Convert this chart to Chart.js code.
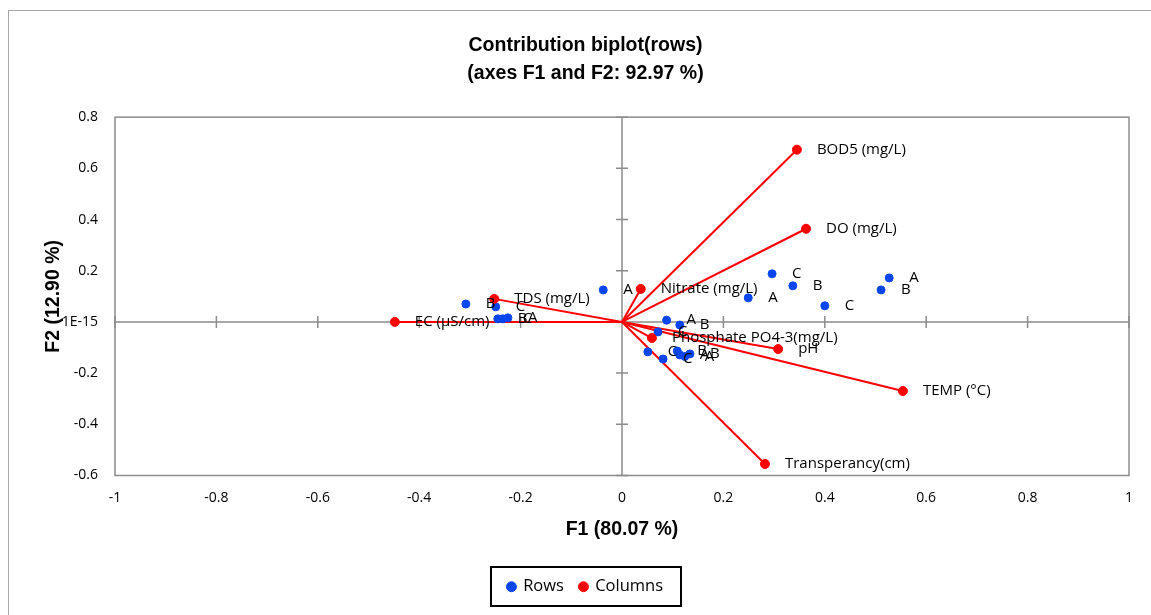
<!DOCTYPE html>
<html>
<head>
<meta charset="utf-8">
<script src="https://cdn.jsdelivr.net/npm/chart.js@4.4.0/dist/chart.umd.min.js"></script>
<style>
html, body { margin: 0; padding: 0; overflow: hidden; background: #fff; }
#frame { position: absolute; left: 8px; top: 10px; width: 1160px; height: 620px; border: 1px solid #a6a6a6; }
#wrap { position: absolute; left: 0; top: 0; width: 1151px; height: 615px; }
</style>
</head>
<body>
<div id="frame"></div>
<div id="wrap"><canvas id="biplot"></canvas></div>
<script>
// variables (columns) - F1 / F2 loadings
const colNames = ['BOD5 (mg/L)', 'DO (mg/L)', 'Nitrate (mg/L)', 'TDS (mg/L)', 'EC (µS/cm)',
    'Phosphate PO4-3(mg/L)', 'pH', 'TEMP (°C)', 'Transperancy(cm)'];
const colF1 = [0.345, 0.363, 0.037, -0.252, -0.448, 0.059, 0.308, 0.554, 0.282];
const colF2 = [0.673, 0.364, 0.129, 0.090, 0.000, -0.063, -0.106, -0.270, -0.555];

// observations (rows)
const rowNames = ['A', 'B', 'C', 'B', 'C', 'A', 'A', 'C', 'B', 'C', 'A', 'B',
    'A', 'B', 'C', 'C', 'C', 'B', 'A', 'B', 'A'];
const rowF1 = [-0.037, -0.308, -0.249, -0.245, -0.235, -0.225, 0.249, 0.296, 0.337, 0.400, 0.527, 0.511,
    0.088, 0.114, 0.071, 0.051, 0.081, 0.109, 0.114, 0.134, 0.124];
const rowF2 = [0.125, 0.070, 0.059, 0.012, 0.012, 0.016, 0.094, 0.188, 0.141, 0.063, 0.172, 0.125,
    0.007, -0.012, -0.039, -0.117, -0.145, -0.114, -0.129, -0.125, -0.135];

const xTickMin = -1, xTickMax = 1, yTickMin = -0.6, yTickMax = 0.8, tickStep = 0.2;

const RED = '#ff0000';
const BLUE = '#0a46f0';
const GRAY = '#8c8c8c';
const FONT = '"Open Sans", "Liberation Sans", sans-serif';
const BOLD_FONT = '"Liberation Sans", Arial, sans-serif';

const datasets = [
    {
        label: 'Rows',
        data: rowF1.map((x, i) => ({ x: x, y: rowF2[i] })),
        backgroundColor: BLUE, borderColor: BLUE,
        pointRadius: 4, pointHoverRadius: 4, order: 1
    },
    {
        label: 'Columns',
        data: colF1.map((x, i) => ({ x: x, y: colF2[i] })),
        backgroundColor: RED, borderColor: RED,
        pointRadius: 4.5, pointHoverRadius: 4.5, order: 0
    }
];
// one vector from the origin per variable
colF1.forEach((x, i) => {
    datasets.push({
        label: '',
        data: [{ x: 0, y: 0 }, { x: x, y: colF2[i] }],
        showLine: true, borderColor: RED, borderWidth: 2,
        pointRadius: 0, order: 2
    });
});

// plot frame, zero axes and their tick marks
const axesPlugin = {
    id: 'biplotAxes',
    beforeDatasetsDraw(chart) {
        const { ctx, chartArea: a, scales: { x, y } } = chart;
        const x0 = x.getPixelForValue(0), y0 = y.getPixelForValue(0);
        ctx.save();
        ctx.strokeStyle = GRAY;
        ctx.lineWidth = 1.5;
        ctx.strokeRect(a.left, a.top, a.right - a.left, a.bottom - a.top);
        ctx.beginPath();
        ctx.moveTo(a.left, y0); ctx.lineTo(a.right, y0);
        ctx.moveTo(x0, a.top); ctx.lineTo(x0, a.bottom);
        x.ticks.forEach(t => {
            const px = x.getPixelForValue(t.value);
            ctx.moveTo(px, y0 - 6); ctx.lineTo(px, y0 + 6);
        });
        y.ticks.forEach(t => {
            const py = y.getPixelForValue(t.value);
            ctx.moveTo(x0 - 6, py); ctx.lineTo(x0 + 6, py);
        });
        ctx.stroke();
        ctx.restore();
    }
};

// point labels, placed right of each marker
const labelPlugin = {
    id: 'pointLabels',
    afterDatasetsDraw(chart) {
        const ctx = chart.ctx;
        ctx.save();
        ctx.font = '15px ' + FONT;
        ctx.fillStyle = '#000';
        ctx.textBaseline = 'middle';
        ctx.textAlign = 'left';
        chart.getDatasetMeta(0).data.forEach((p, i) => ctx.fillText(rowNames[i], p.x + 20, p.y));
        chart.getDatasetMeta(1).data.forEach((p, i) => ctx.fillText(colNames[i], p.x + 20, p.y));
        ctx.restore();
    }
};

// black frame around the legend
const legendBox = {
    id: 'legendBox',
    afterDraw(chart) {
        const boxes = chart.legend.legendHitBoxes;
        if (!boxes || !boxes.length) return;
        const l = Math.min(...boxes.map(b => b.left));
        const r = Math.max(...boxes.map(b => b.left + b.width));
        const t = Math.min(...boxes.map(b => b.top));
        const b = Math.max(...boxes.map(b => b.top + b.height));
        const cx = (l + r) / 2, cy = (t + b) / 2;
        const ctx = chart.ctx;
        ctx.save();
        ctx.strokeStyle = '#000';
        ctx.lineWidth = 2;
        ctx.strokeRect(Math.round(cx - 95), Math.round(cy - 19.5), 190, 39);
        ctx.restore();
    }
};

new Chart(document.getElementById('biplot').getContext('2d'), {
    type: 'scatter',
    data: { datasets: datasets },
    plugins: [axesPlugin, labelPlugin, legendBox],
    options: {
        responsive: true,
        maintainAspectRatio: false,
        animation: false,
        events: [],
        layout: { padding: { left: 42, right: 22, top: 0, bottom: 10 } },
        plugins: {
            tooltip: { enabled: false },
            title: {
                display: true,
                text: ['Contribution biplot(rows)', '(axes F1 and F2: 92.97 %)'],
                color: '#000',
                font: { family: BOLD_FONT, size: 19.5, weight: 'bold', lineHeight: 1.44 },
                padding: { top: 32, bottom: 29 }
            },
            legend: {
                position: 'bottom',
                labels: {
                    filter: item => item.text !== '',
                    sort: (a, b) => a.datasetIndex - b.datasetIndex,
                    usePointStyle: true,
                    pointStyle: 'circle',
                    boxWidth: 7, boxHeight: 7,
                    color: '#000',
                    padding: 16,
                    font: { family: FONT, size: 16.5 }
                }
            }
        },
        scales: {
            x: {
                type: 'linear', min: xTickMin, max: xTickMax,
                grid: { display: false, drawTicks: false },
                border: { display: false },
                ticks: {
                    stepSize: tickStep, padding: 14, color: '#000',
                    font: { family: FONT, size: 14 },
                    callback: v => String(+v.toFixed(1))
                },
                title: {
                    display: true, text: 'F1 (80.07 %)', color: '#000',
                    padding: { top: 4, bottom: 21 },
                    font: { family: BOLD_FONT, size: 19.5, weight: 'bold' }
                },
                afterFit: s => { s.height = 87; }
            },
            y: {
                type: 'linear', min: yTickMin, max: yTickMax,
                grid: { display: false, drawTicks: false },
                border: { display: false },
                ticks: {
                    stepSize: tickStep, padding: 17, color: '#000',
                    font: { family: FONT, size: 14 },
                    callback: v => Math.abs(v) < 1e-9 ? '1E-15' : String(+v.toFixed(1))
                },
                title: {
                    display: true, text: 'F2 (12.90 %)', color: '#000',
                    padding: { top: 0, bottom: 4 },
                    font: { family: BOLD_FONT, size: 19.5, weight: 'bold' }
                },
                afterFit: s => { s.width = 73; }
            }
        }
    }
});
</script>
</body>
</html>
